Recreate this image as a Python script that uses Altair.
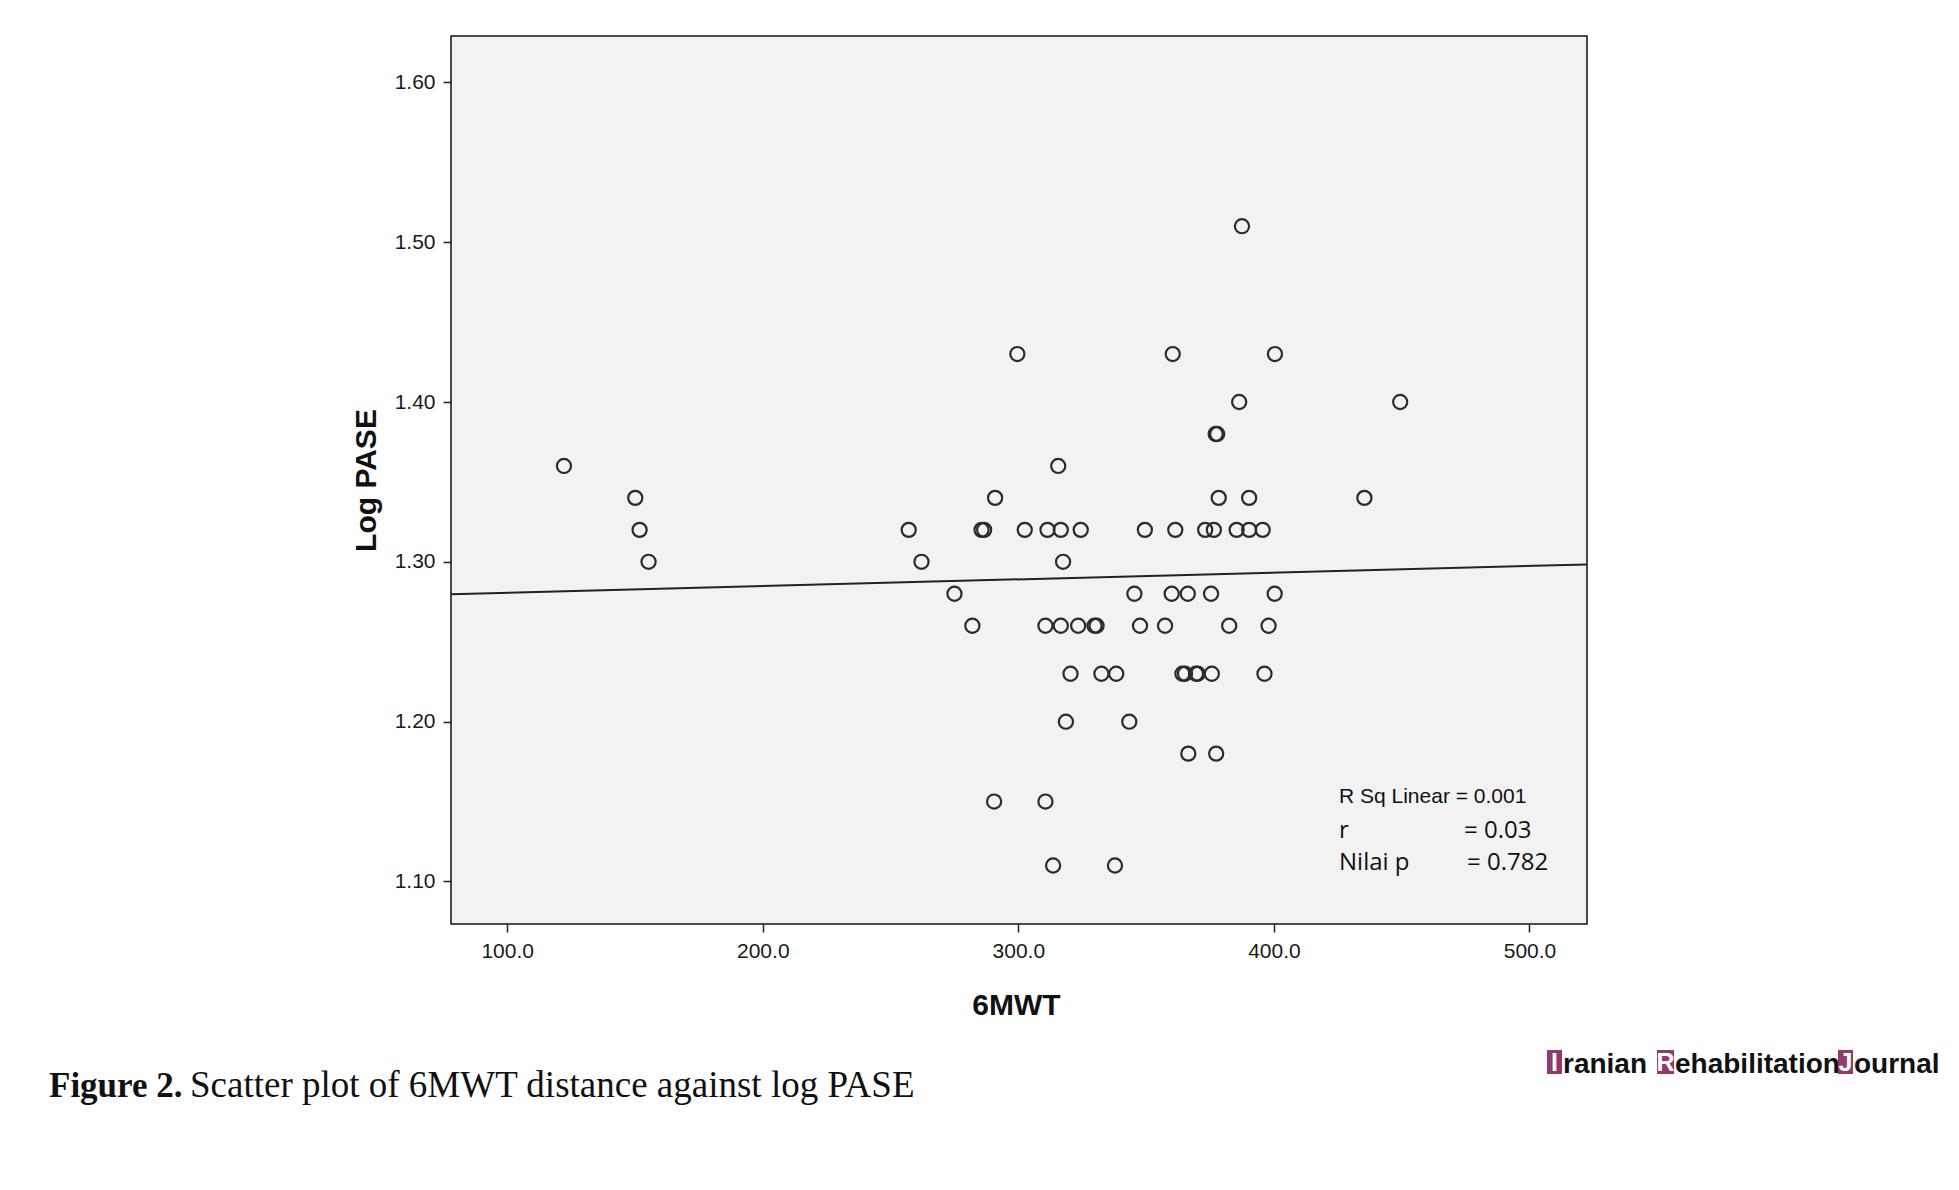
import altair as alt
import pandas as pd

# 6MWT distance (m) and log PASE
walk_m = [
    387.5,
    299.6, 360.4, 400.4,
    386.4, 449.4,
    377.2, 377.8,
    122.2, 315.6,
    150.1, 290.9, 378.4, 390.3, 435.4,
    151.8, 257.1, 285.6, 286.6, 302.5, 311.4, 316.6, 324.4, 349.5, 361.4,
    373.1, 376.5, 385.4, 390.3, 395.6,
    155.3, 262.1, 317.5,
    275.0, 345.4, 360.0, 366.3, 375.4, 400.3,
    282.0, 310.6, 316.6, 323.4, 329.8, 330.6, 347.6, 357.4, 382.5, 397.9,
    320.4, 332.5, 338.3, 364.2, 365.2, 369.5, 370.2, 375.7, 396.3,
    318.6, 343.4,
    366.5, 377.4,
    290.5, 310.6,
    313.6, 337.8,
]
log_pase = (
    [1.51]
    + [1.43] * 3
    + [1.40] * 2
    + [1.38] * 2
    + [1.36] * 2
    + [1.34] * 5
    + [1.32] * 15
    + [1.30] * 3
    + [1.28] * 6
    + [1.26] * 10
    + [1.23] * 9
    + [1.20] * 2
    + [1.18] * 2
    + [1.15] * 2
    + [1.11] * 2
)

# linear fit line end points
fit_x = [78.0, 522.5]
fit_y = [1.2797, 1.2984]

x_ticks = [100, 200, 300, 400, 500]
y_ticks = [1.10, 1.20, 1.30, 1.40, 1.50, 1.60]

pts = pd.DataFrame({"walk": walk_m, "pase": log_pase})
fit = pd.DataFrame({"walk": fit_x, "pase": fit_y})

W, H = 1136, 888

x_enc = alt.X(
    "walk:Q",
    scale=alt.Scale(domain=[78, 522.5], nice=False, zero=False),
    axis=alt.Axis(values=x_ticks, format=".1f", title="6MWT",
                  titleX=565, titleY=90, titleBaseline="alphabetic",
                  titleAnchor=None),
)
y_enc = alt.Y(
    "pase:Q",
    scale=alt.Scale(domain=[1.0734, 1.629], nice=False, zero=False),
    axis=alt.Axis(values=y_ticks, format=".2f", title="Log PASE",
                  titleX=-70, titleY=H / 2, titleAngle=-90,
                  titleBaseline="bottom", titleAlign="center"),
)

points = alt.Chart(pts).mark_point(
    shape="circle", filled=False, size=200, strokeWidth=2.2, color="#2b2b2b", opacity=1
).encode(x=x_enc, y=y_enc)

line = alt.Chart(fit).mark_line(color="#222222", strokeWidth=2).encode(
    x="walk:Q", y="pase:Q"
)


def label(txt, px, py, size, font="Liberation Sans", weight="normal",
          color="#111111", align="left"):
    return alt.Chart(pd.DataFrame({"t": [txt]})).mark_text(
        font=font, fontSize=size, fontWeight=weight, color=color,
        align=align, baseline="alphabetic",
    ).encode(text="t:N", x=alt.value(px), y=alt.value(py))


def box(x0, x1, y0, y1):
    return alt.Chart(pd.DataFrame({"t": [0]})).mark_rect(color="#933a6c").encode(
        x=alt.value(x0), x2=alt.value(x1), y=alt.value(y0), y2=alt.value(y1)
    )


notes = [
    label("R Sq Linear = 0.001", 888, 767, 21),
    label("r", 888, 802, 24, font="Open Sans"),
    label("= 0.03", 1013, 802, 24, font="Open Sans"),
    label("Nilai p", 888, 834, 24, font="Open Sans"),
    label("= 0.782", 1016, 834, 24, font="Open Sans"),
    label("Figure 2.", -402, 1061, 35, font="Liberation Serif", weight="bold"),
    label("Scatter plot of 6MWT distance against log PASE", -261, 1061, 37,
          font="Liberation Serif"),
    box(1096, 1111, 1014, 1038),
    label("I", 1103.5, 1035, 25, weight="bold", color="white", align="center"),
    label("ranian", 1112, 1037, 28, weight="bold"),
    box(1206, 1223, 1014, 1038),
    label("R", 1214.5, 1035, 25, weight="bold", color="white", align="center"),
    label("ehabilitation", 1224, 1037, 28, weight="bold"),
    box(1387, 1402, 1014, 1038),
    label("J", 1394.5, 1035, 25, weight="bold", color="white", align="center"),
    label("ournal", 1403, 1037, 28, weight="bold"),
]

chart = alt.layer(line, points, *notes).properties(
    width=W,
    height=H,
    autosize="none",
    padding={"left": 443, "top": 28, "right": 360, "bottom": 230},
    background="white",
).configure_view(
    fill="#f2f2f2", stroke="#111111", strokeWidth=1.5
).configure_axis(
    grid=False,
    domain=False,
    ticks=True,
    tickSize=8,
    tickWidth=1.5,
    tickColor="#222222",
    labelFont="Liberation Sans",
    labelFontSize=21,
    labelColor="#1a1a1a",
    labelPadding=8,
    titleFont="Liberation Sans",
    titleFontSize=30,
    titleFontWeight="bold",
    titleColor="#111111",
)

chart.save("out.html", embed_options={"renderer": "svg", "actions": False})
